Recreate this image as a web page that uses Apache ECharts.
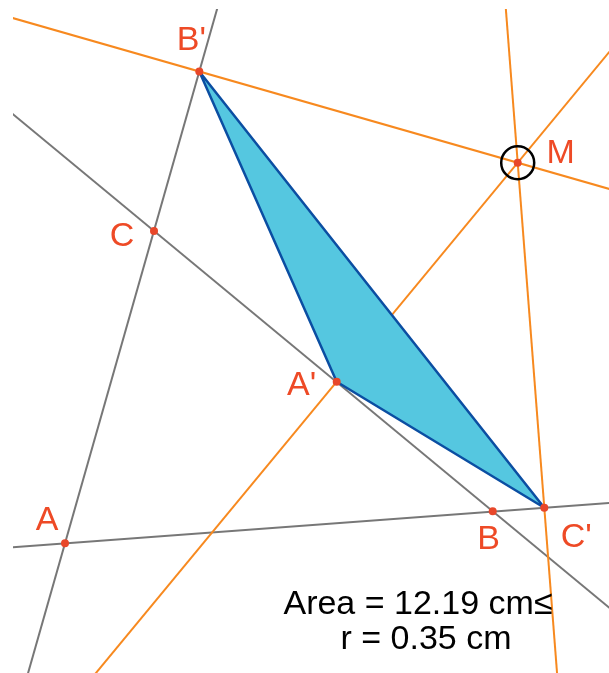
<!DOCTYPE html>
<html>
<head>
<meta charset="utf-8">
<script src="https://cdn.jsdelivr.net/npm/echarts@6/dist/echarts.min.js"></script>
<style>
html,body{margin:0;padding:0;background:#fff;}
#chart{width:609px;height:673px;}
</style>
</head>
<body>
<div id="chart"></div>
<script>
// Point names and coordinates (picture units)
var pointNames = ["A", "B", "C", "A'", "B'", "C'", "M"];
var pointX = [65, 492.7, 154, 336.7, 199.3, 544.3, 517.7];
var pointY = [543.3, 511.3, 231, 381.7, 71.5, 507.7, 162.7];
// Lines, each through two named points
var grayLines = [["A", "B'"], ["A", "C'"], ["C", "B"]];
var orangeLines = [["B'", "M"], ["M", "C'"], ["A'", "M"]];
var triangle = ["A'", "B'", "C'"];
var centerPoint = "M";
var infoLines = ["Area = 12.19 cm\u2264", "r = 0.35 cm"];

function P(n) { var i = pointNames.indexOf(n); return [pointX[i], pointY[i]]; }
function extend(pair) {
  var a = P(pair[0]), b = P(pair[1]);
  var dx = b[0] - a[0], dy = b[1] - a[1];
  return [[a[0] - 10 * dx, a[1] - 10 * dy], [a[0] + 10 * dx, a[1] + 10 * dy]];
}
var labelOffsets = {
  "A": [-18, -23], "B": [-4, 28], "C": [-32, 6], "A'": [-35, 4],
  "B'": [-8, -31], "C'": [32, 30], "M": [43, -9]
};
var series = [];
grayLines.forEach(function (l) {
  series.push({ type: 'line', data: extend(l), symbol: 'none', silent: true, z: 1,
    lineStyle: { color: '#777777', width: 2 } });
});
orangeLines.forEach(function (l) {
  series.push({ type: 'line', data: extend(l), symbol: 'none', silent: true, z: 2,
    lineStyle: { color: '#F7891F', width: 2 } });
});
series.push({
  type: 'custom', z: 3, silent: true,
  data: [0],
  renderItem: function (params, api) {
    var pts = triangle.map(function (n) { return api.coord(P(n)); });
    return { type: 'polygon', shape: { points: pts },
      style: { fill: '#55C7E0', stroke: '#0B4EA2', lineWidth: 2.5, lineJoin: 'round' } };
  }
});
series.push({
  type: 'scatter', z: 4, silent: true, data: [P(centerPoint)], symbol: 'circle', symbolSize: 33,
  itemStyle: { color: 'rgba(0,0,0,0)', borderColor: '#000', borderWidth: 2.5, opacity: 1 }
});
series.push({
  type: 'scatter', z: 5, silent: true, symbolSize: 8,
  itemStyle: { color: '#E8472A', opacity: 1 },
  data: pointNames.map(function (n) {
    return { value: P(n), name: n, label: { show: true, position: 'inside', offset: labelOffsets[n],
      formatter: n, color: '#EE4A26', opacity: 1, textBorderWidth: 0, textBorderColor: 'transparent',
      fontSize: 34, fontFamily: 'Liberation Sans, Arial, sans-serif' } };
  })
});
var chart = echarts.init(document.getElementById('chart'));
chart.setOption({
  animation: false,
  grid: { left: 14, top: 10, right: 0, bottom: 0 },
  xAxis: { type: 'value', min: 14, max: 609, show: false },
  yAxis: { type: 'value', min: 10, max: 673, inverse: true, show: false },
  series: series,
  graphic: [
    { type: 'text', x: 418, y: 605, style: { text: infoLines[0], textAlign: 'center', textVerticalAlign: 'middle',
      fill: '#000', font: '34px "Liberation Sans", Arial, sans-serif' }, z: 10 },
    { type: 'text', x: 426, y: 640, style: { text: infoLines[1], textAlign: 'center', textVerticalAlign: 'middle',
      fill: '#000', font: '34px "Liberation Sans", Arial, sans-serif' }, z: 10 }
  ]
});
</script>
</body>
</html>
